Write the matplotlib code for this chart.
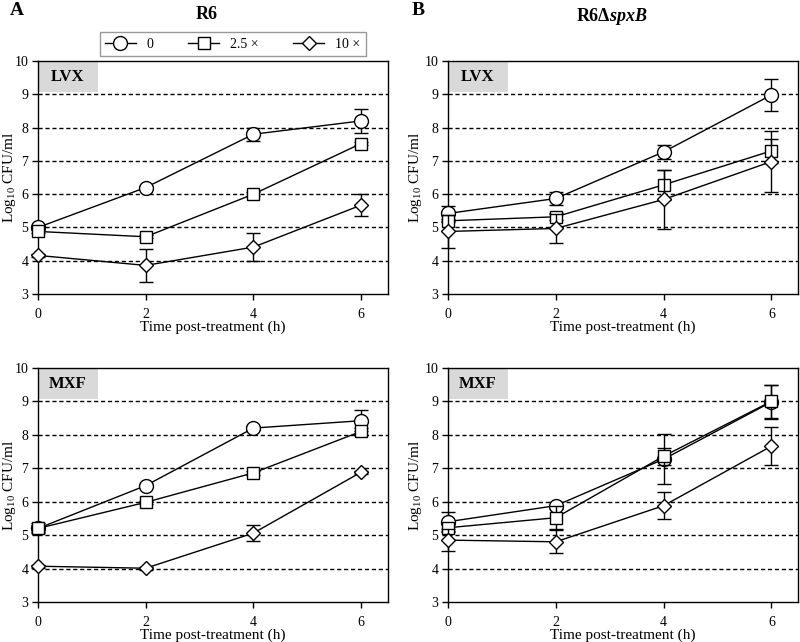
import numpy as np
import matplotlib.pyplot as plt
from matplotlib.patches import Rectangle
from matplotlib.lines import Line2D

plt.rcParams["font.family"] = ["Liberation Serif", "DejaVu Serif"]
plt.rcParams["mathtext.fontset"] = "custom"
plt.rcParams["mathtext.rm"] = "Liberation Serif"
plt.rcParams["mathtext.it"] = "Liberation Serif:bold:italic"

# Data: time points and log10 CFU/ml (mean, error) for each panel
Time_h = [0, 2, 4, 6]
Doses = ["0", "2.5 \u00d7", "10 \u00d7"]

# R6, LVX
R6_LVX_mean = [[5.0, 6.2, 7.8, 8.2], [4.88, 4.72, 6.0, 7.52], [4.16, 3.86, 4.41, 5.67]]
R6_LVX_err = [[0.05, 0.05, 0.2, 0.35], [0.05, 0.05, 0.05, 0.05], [0.05, 0.5, 0.41, 0.34]]
# R6 spxB, LVX
Spx_LVX_mean = [[5.42, 5.87, 7.27, 8.98], [5.2, 5.32, 6.28, 7.3], [4.88, 4.97, 5.84, 6.98]]
Spx_LVX_err = [[0.22, 0.19, 0.22, 0.49], [0.05, 0.1, 0.45, 0.35], [0.5, 0.44, 0.9, 0.92]]
# R6, MXF
R6_MXF_mean = [[5.2, 6.48, 8.2, 8.42], [5.2, 5.98, 6.86, 8.1], [4.07, 4.01, 5.06, 6.88]]
R6_MXF_err = [[0.15, 0.05, 0.05, 0.32], [0.1, 0.05, 0.05, 0.1], [0.05, 0.05, 0.25, 0.05]]
# R6 spxB, MXF
Spx_MXF_mean = [[5.4, 5.88, 7.27, 8.98], [5.22, 5.52, 7.36, 9.0], [4.85, 4.8, 5.88, 7.66]]
Spx_MXF_err = [[0.3, 0.1, 0.75, 0.5], [0.1, 0.35, 0.25, 0.5], [0.32, 0.34, 0.4, 0.57]]

Markers = ["o", "s", "D"]
Marker_sizes = [10, 9, 7]

fig = plt.figure(figsize=(8, 6.42), dpi=100)

Panels = [
    ([0.0475, 0.542, 0.4375, 0.363], R6_LVX_mean, R6_LVX_err, "LVX", -0.08),
    ([0.56, 0.542, 0.438, 0.363], Spx_LVX_mean, Spx_LVX_err, "LVX", -0.094),
    ([0.0475, 0.0623, 0.4375, 0.3647], R6_MXF_mean, R6_MXF_err, "MXF", -0.08),
    ([0.56, 0.0623, 0.438, 0.3647], Spx_MXF_mean, Spx_MXF_err, "MXF", -0.094),
]

for pos, means, errs, drug, ylab_x in Panels:
    ax = fig.add_axes(pos)
    for y in range(4, 10):
        ax.axhline(y, color="black", linestyle=(0, (3, 2)), linewidth=1, zorder=1)
    for i in range(len(Doses)):
        ax.errorbar(Time_h, means[i], yerr=errs[i], color="black", linewidth=1,
                    marker=Markers[i], markersize=Marker_sizes[i], markerfacecolor="white",
                    markeredgecolor="black", markeredgewidth=1, capsize=5, elinewidth=1,
                    clip_on=False, zorder=3 + i)
    ax.set_xlim(0, 6.5)
    ax.set_ylim(3, 10)
    ax.set_xticks([0, 2, 4, 6])
    ax.set_yticks(range(3, 11))
    ax.tick_params(direction="out", length=4, width=1, labelsize=10, pad=3)
    ax.tick_params(axis="x", pad=6)
    for s in ax.spines.values():
        s.set_linewidth(1)
    ax.set_xlabel("Time post-treatment (h)", fontsize=11, va="center")
    ax.xaxis.set_label_coords(0.5, -0.142)
    ax.set_ylabel("Log$_{10}$ CFU/ml", fontsize=11, va="center")
    ax.yaxis.set_label_coords(ylab_x, 0.5)
    ax.add_patch(Rectangle((0, 0.867), 0.17, 0.133, transform=ax.transAxes,
                           facecolor="#d9d9d9", edgecolor="none", zorder=2))
    ax.text(0.085, 0.933, drug, transform=ax.transAxes, ha="center", va="center",
            fontsize=12, fontweight="bold", zorder=4)

# Panel letters and strain titles
fig.text(0.012, 0.997, "A", fontsize=14, fontweight="bold", va="top")
fig.text(0.515, 0.997, "B", fontsize=14, fontweight="bold", va="top")
fig.text(0.258, 0.99, "R6", fontsize=13, fontweight="bold", va="top", ha="center")
fig.text(0.765, 0.99, "R6\u0394$\\mathit{spxB}$", fontsize=13, fontweight="bold",
         va="top", ha="center")

# Shared legend
handles = [Line2D([], [], color="black", linewidth=1, marker=Markers[i],
                  markersize=Marker_sizes[i], markerfacecolor="white",
                  markeredgecolor="black") for i in range(len(Doses))]
leg = fig.legend(handles, Doses, loc="center", bbox_to_anchor=(0.291, 0.931),
                 ncol=3, frameon=True, fancybox=False, fontsize=10,
                 handlelength=2.2, columnspacing=2.5, borderpad=0.4)
leg.get_frame().set_edgecolor("gray")
leg.get_frame().set_linewidth(1)

plt.savefig("out.png", dpi=100)
